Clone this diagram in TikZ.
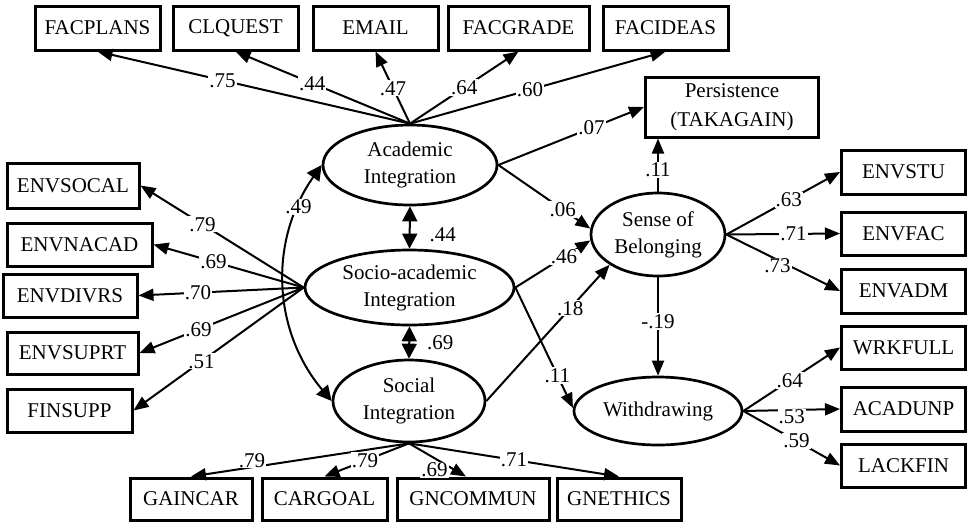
\documentclass[tikz,border=0pt]{standalone}
\usepackage{fontspec}
\setmainfont{Liberation Serif}
\usetikzlibrary{shapes.geometric,arrows.meta}
\newcommand{\dgfont}{\fontsize{21}{27}\selectfont}
\begin{document}
\begin{tikzpicture}[x=1pt,y=-1pt,
  box/.style={draw, line width=3pt, inner sep=0pt, align=center, font=\dgfont},
  lat/.style={draw, ellipse, line width=2.7pt, inner sep=0pt, align=center, font=\dgfont},
  ld/.style={line width=2pt, -{Triangle[length=15pt,width=12pt]}},
  cor/.style={line width=2pt, {Triangle[length=15pt,width=15pt]}-{Triangle[length=15pt,width=15pt]}},
  lbl/.style={fill=white, inner sep=1pt, font=\dgfont}]
\useasboundingbox (0,0) rectangle (968,523);

% top indicators
\node[box, minimum width=125pt, minimum height=44pt] (FACPLANS) at (97.5,28) {FACPLANS};
\node[box, minimum width=125pt, minimum height=44pt] (CLQUEST) at (235.5,28) {CLQUEST};
\node[box, minimum width=125pt, minimum height=44pt] (EMAIL) at (375.5,28) {EMAIL};
\node[box, minimum width=141pt, minimum height=44pt] (FACGRADE) at (518.5,28) {FACGRADE};
\node[box, minimum width=125pt, minimum height=44pt] (FACIDEAS) at (665.5,28) {FACIDEAS};
\node[box, minimum width=173pt, minimum height=60pt, font=\fontsize{21}{29}\selectfont] (P) at (732,107) {Persistence\\(TAKAGAIN)};

% left indicators
\node[box, minimum width=132pt, minimum height=45pt] (ENVSOCAL) at (73,185.5) {ENVSOCAL};
\node[box, minimum width=145pt, minimum height=43pt] (ENVNACAD) at (79.5,244.5) {ENVNACAD};
\node[box, minimum width=134pt, minimum height=43pt] (ENVDIVRS) at (70,295.5) {ENVDIVRS};
\node[box, minimum width=131pt, minimum height=42pt] (ENVSUPRT) at (72.5,353) {ENVSUPRT};
\node[box, minimum width=125pt, minimum height=43pt] (FINSUPP) at (69.5,410.5) {FINSUPP};

% right indicators
\node[box, minimum width=124pt, minimum height=44pt] (ENVSTU) at (903.5,172) {ENVSTU};
\node[box, minimum width=124pt, minimum height=43pt] (ENVFAC) at (903.5,233.5) {ENVFAC};
\node[box, minimum width=124pt, minimum height=44pt] (ENVADM) at (903.5,291) {ENVADM};
\node[box, minimum width=124pt, minimum height=43pt] (WRKFULL) at (903.5,347.5) {WRKFULL};
\node[box, minimum width=124pt, minimum height=44pt] (ACADUNP) at (903.5,409) {ACADUNP};
\node[box, minimum width=124pt, minimum height=43pt] (LACKFIN) at (903.5,465.5) {LACKFIN};

% bottom indicators
\node[box, minimum width=122pt, minimum height=42pt] (GAINCAR) at (191,499) {GAINCAR};
\node[box, minimum width=125pt, minimum height=42pt] (CARGOAL) at (324.5,499) {CARGOAL};
\node[box, minimum width=152pt, minimum height=42pt] (GNCOMMUN) at (473,499) {GNCOMMUN};
\node[box, minimum width=124pt, minimum height=42pt] (GNETHICS) at (619,499) {GNETHICS};

% latent variables
\node[lat, minimum width=174pt, minimum height=80pt] (AI) at (410,165) {Academic\\Integration};
\node[lat, minimum width=209pt, minimum height=75pt] (SA) at (409.5,287.5) {Socio-academic\\Integration};
\node[lat, minimum width=152pt, minimum height=82pt] (SI) at (409,401) {Social\\Integration};
\node[lat, minimum width=134pt, minimum height=83pt] (SB) at (658,234.5) {Sense of\\Belonging};
\node[lat, minimum width=168pt, minimum height=68pt] (W) at (658,411) {Withdrawing};

% academic integration loadings
\draw[ld] (AI.north) -- node[lbl,pos=0.6]{.75} (FACPLANS.south);
\draw[ld] (AI.north) -- node[lbl,pos=0.56]{.44} (CLQUEST.south);
\draw[ld] (AI.north) -- node[lbl,pos=0.49]{.47} (EMAIL.south);
\draw[ld] (AI.north) -- node[lbl,pos=0.5]{.64} (FACGRADE.south);
\draw[ld] (AI.north) -- node[lbl,pos=0.47]{.60} (FACIDEAS.south);

% socio-academic loadings
\draw[ld] (SA.west) -- node[lbl,pos=0.62]{.79} (ENVSOCAL.east);
\draw[ld] (SA.west) -- node[lbl,pos=0.6]{.69} (ENVNACAD.east);
\draw[ld] (SA.west) -- node[lbl,pos=0.64]{.70} (ENVDIVRS.east);
\draw[ld] (SA.west) -- node[lbl,pos=0.64]{.69} (ENVSUPRT.east);
\draw[ld] (SA.west) -- node[lbl,pos=0.6]{.51} (FINSUPP.east);

% social integration loadings
\draw[ld] (SI.south) -- node[lbl,pos=0.72,yshift=7pt]{.79} (GAINCAR.north);
\draw[ld] (SI.south) -- node[lbl,pos=0.52]{.79} (CARGOAL.north);
\draw[ld] (SI.south) -- node[lbl,pos=0.8,xshift=-20pt]{.69} ([xshift=-7pt]GNCOMMUN.north);
\draw[ld] (SI.south) -- node[lbl,pos=0.5]{.71} (GNETHICS.north);

% correlations
\draw[cor] (AI.south) -- node[lbl,pos=0.67,xshift=33pt]{.44} (SA.north);
\draw[cor] (SA.south) -- node[lbl,midway,xshift=31pt]{.69} (SI.north);
\draw[cor] (AI.west) to[out=235,in=130] node[lbl,pos=0.18]{.49} (SI.west);

% structural paths
\draw[ld] (AI.east) -- node[lbl,pos=0.64]{.07} (P.west);
\draw[ld] (AI.east) -- node[lbl,pos=0.7]{.06} (SB.175);
\draw[ld] (SA.east) -- node[lbl,pos=0.65]{.46} (SB.185);
\draw[ld] (SI.east) -- node[lbl,pos=0.68]{.18} (SB.212);
\draw[ld] (SA.east) -- node[lbl,pos=0.73]{.11} (W.178);
\draw[ld] (SB.north) -- node[lbl,pos=0.41]{.11} (SB.north |- P.south);
\draw[ld] (SB.south) -- node[lbl,pos=0.45]{-.19} (W.north);

% sense of belonging loadings
\draw[ld] (SB.east) -- node[lbl,pos=0.55]{.63} (ENVSTU.west);
\draw[ld] (SB.east) -- node[lbl,pos=0.59]{.71} (ENVFAC.west);
\draw[ld] (SB.east) -- node[lbl,pos=0.45,yshift=-6pt]{.73} (ENVADM.west);

% withdrawing loadings
\draw[ld] (W.east) -- node[lbl,pos=0.48]{.64} (WRKFULL.west);
\draw[ld] (W.east) -- node[lbl,pos=0.5,yshift=-7pt]{.53} (ACADUNP.west);
\draw[ld] (W.east) -- node[lbl,pos=0.55]{.59} (LACKFIN.west);
\end{tikzpicture}
\end{document}
